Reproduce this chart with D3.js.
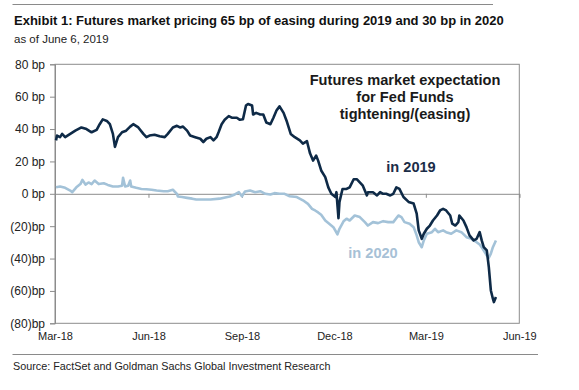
<!DOCTYPE html>
<html><head><meta charset="utf-8">
<script src="https://cdn.jsdelivr.net/npm/d3@7"></script>
<style>
html,body{margin:0;padding:0;background:#fff;}
svg{display:block;font-family:"Liberation Sans",Arial,sans-serif;}
</style></head>
<body>
<svg id="chart" width="579" height="390"></svg>
<script>
// ---- data ----
const dates2019 = ["2018-03-02","2018-03-03","2018-03-06","2018-03-08","2018-03-11","2018-03-16","2018-03-21","2018-03-27","2018-04-01","2018-04-06","2018-04-11","2018-04-14","2018-04-17","2018-04-21","2018-04-24","2018-04-27","2018-04-29","2018-05-02","2018-05-06","2018-05-10","2018-05-14","2018-05-17","2018-05-22","2018-05-27","2018-05-30","2018-06-02","2018-06-07","2018-06-12","2018-06-17","2018-06-20","2018-06-25","2018-06-29","2018-07-02","2018-07-05","2018-07-09","2018-07-12","2018-07-17","2018-07-22","2018-07-25","2018-07-28","2018-08-01","2018-08-04","2018-08-07","2018-08-09","2018-08-12","2018-08-15","2018-08-19","2018-08-22","2018-08-27","2018-08-30","2018-09-02","2018-09-05","2018-09-07","2018-09-11","2018-09-12","2018-09-15","2018-09-19","2018-09-22","2018-09-25","2018-09-29","2018-10-02","2018-10-05","2018-10-08","2018-10-12","2018-10-15","2018-10-17","2018-10-19","2018-10-23","2018-10-28","2018-10-31","2018-11-04","2018-11-05","2018-11-07","2018-11-10","2018-11-13","2018-11-15","2018-11-18","2018-11-22","2018-11-25","2018-11-28","2018-12-02","2018-12-03","2018-12-05","2018-12-06","2018-12-09","2018-12-13","2018-12-16","2018-12-20","2018-12-23","2018-12-26","2018-12-29","2019-01-02","2019-01-03","2019-01-08","2019-01-12","2019-01-15","2019-01-18","2019-01-21","2019-01-25","2019-01-28","2019-01-31","2019-02-03","2019-02-07","2019-02-12","2019-02-17","2019-02-20","2019-02-22","2019-02-25","2019-02-27","2019-03-02","2019-03-05","2019-03-08","2019-03-12","2019-03-15","2019-03-18","2019-03-21","2019-03-25","2019-03-27","2019-03-30","2019-04-02","2019-04-03","2019-04-07","2019-04-10","2019-04-13","2019-04-17","2019-04-20","2019-04-23","2019-04-25","2019-04-27","2019-04-30","2019-05-02","2019-05-04","2019-05-06","2019-05-07","2019-05-09"];
const values2019 = [33,36,35,37,35,37,39,41,40,38,39.5,43,46,45,43,37,29,35,38,39,41.5,43,41,37,35,36,36.5,35.5,35,37,41,42,41,41.5,39,36,35,34,32,34,35,33,35,38,43,45.7,48,47,47,45.7,46,54.5,55.5,54.5,49,50,49,49,44,43,47,51.4,54,50,45,41,37,35,33,31,32.5,30,25,20.5,23.6,20.5,14.4,10.3,4,0,-2,1,-15,-5,3,3,4,9,9,7,5,-1,1,1,-1,1,0,0,-1,0,4,3,-2,-5,-6,-12.3,-22.6,-27.8,-24.7,-21.6,-19.6,-16.5,-13.4,-10.3,-9.3,-10.3,-13.4,-18.5,-19.6,-17.5,-13.4,-16.5,-20.6,-25.7,-28.8,-27.8,-23.7,-28.8,-33,-35,-45.3,-59.7,-64.8,-66.9,-63.8];

const dates2020 = ["2018-03-02","2018-03-06","2018-03-11","2018-03-16","2018-03-18","2018-03-22","2018-03-26","2018-03-28","2018-03-31","2018-04-03","2018-04-06","2018-04-09","2018-04-13","2018-04-18","2018-04-22","2018-04-27","2018-05-02","2018-05-06","2018-05-07","2018-05-09","2018-05-12","2018-05-14","2018-05-15","2018-05-20","2018-05-25","2018-05-30","2018-06-04","2018-06-09","2018-06-16","2018-06-20","2018-06-25","2018-06-29","2018-06-30","2018-07-04","2018-07-09","2018-07-14","2018-07-18","2018-07-25","2018-08-01","2018-08-10","2018-08-20","2018-08-25","2018-08-29","2018-09-01","2018-09-04","2018-09-09","2018-09-14","2018-09-19","2018-09-24","2018-09-29","2018-10-03","2018-10-08","2018-10-13","2018-10-18","2018-10-25","2018-10-31","2018-11-05","2018-11-09","2018-11-12","2018-11-15","2018-11-18","2018-11-22","2018-11-25","2018-11-30","2018-12-04","2018-12-06","2018-12-10","2018-12-13","2018-12-16","2018-12-21","2018-12-26","2018-12-31","2019-01-03","2019-01-08","2019-01-13","2019-01-18","2019-01-23","2019-01-28","2019-02-02","2019-02-05","2019-02-08","2019-02-13","2019-02-17","2019-02-20","2019-02-22","2019-02-25","2019-02-27","2019-03-02","2019-03-07","2019-03-10","2019-03-13","2019-03-18","2019-03-21","2019-03-26","2019-03-31","2019-04-05","2019-04-10","2019-04-15","2019-04-20","2019-04-23","2019-04-26","2019-04-30","2019-05-02","2019-05-04","2019-05-06","2019-05-09"];
const values2020 = [4,4.5,3.7,2,1,4,6,8.6,5.7,7,6,8.2,6,6.5,5.5,4.5,4.5,5,9.9,4.5,5,8.2,4.5,3.7,3,2.8,2.5,2,1.6,1.6,2.5,0,-1.7,-2,-2.5,-3,-3.5,-3.5,-3.5,-3,-1.7,-0.4,1,-1.5,1.4,2,1,1.6,0,-0.4,0.4,0,0,-1.5,-2,-4,-6.2,-9.3,-10.3,-11.5,-13,-16.5,-18,-20.6,-25,-21.6,-17,-15.4,-16.5,-13.4,-14.4,-17.5,-19.6,-17.5,-18.1,-16.9,-17.5,-17.5,-13.4,-14.4,-17.5,-18.5,-20.6,-25.7,-29.9,-33,-28.8,-24.7,-23.7,-21.6,-23.7,-22.6,-23.7,-24.7,-22.6,-23.7,-26.8,-27.8,-29.9,-31.3,-34,-38.1,-39.5,-37,-33,-28.8];

const yTicks = [80,60,40,20,0,-20,-40,-60,-80];
const yTickLabels = ["80 bp","60 bp","40 bp","20 bp","0 bp","(20)bp","(40)bp","(60)bp","(80)bp"];
const xTickDates = ["2018-03-01","2018-06-01","2018-09-01","2018-12-01","2019-03-01","2019-06-01"];
const xTickLabels = ["Mar-18","Jun-18","Sep-18","Dec-18","Mar-19","Jun-19"];

const titleText = "Exhibit 1: Futures market pricing 65 bp of easing during 2019 and 30 bp in 2020";
const subtitleText = "as of June 6, 2019";
const sourceText = "Source: FactSet and Goldman Sachs Global Investment Research";
const noteLines = ["Futures market expectation","for Fed Funds","tightening/(easing)"];

// ---- drawing ----
const parse = d3.timeParse("%Y-%m-%d");
const svg = d3.select("#chart");
const L = 55, R = 519.3, T = 64.3, B = 323.3;
const x = d3.scaleTime().domain([parse(xTickDates[0]), parse(xTickDates[xTickDates.length-1])]).range([L, R]);
const y = d3.scaleLinear().domain([-80, 80]).range([B, T]);
const gridColor = "#8c8c8c";

// rules
svg.append("line").attr("x1",12.5).attr("x2",493).attr("y1",4.5).attr("y2",4.5).attr("stroke","#8a8a8a").attr("stroke-width",1);
svg.append("line").attr("x1",12.5).attr("x2",538).attr("y1",354.5).attr("y2",354.5).attr("stroke","#8a8a8a").attr("stroke-width",1);

svg.append("text").attr("x",14).attr("y",25).attr("font-size",13).attr("font-weight","bold").attr("fill","#111").text(titleText);
svg.append("text").attr("x",14).attr("y",43).attr("font-size",11.5).attr("fill","#222").text(subtitleText);
svg.append("text").attr("x",13).attr("y",370).attr("font-size",10.8).attr("fill","#222").text(sourceText);

// frame
svg.append("rect").attr("x",L).attr("y",T).attr("width",R-L).attr("height",B-T).attr("fill","none").attr("stroke",gridColor).attr("stroke-width",1);

// y axis
const yAxis = d3.axisLeft(y).tickValues(yTicks).tickSize(5).tickPadding(5)
  .tickFormat((d,i) => yTickLabels[i]);
const gy = svg.append("g").attr("transform",`translate(${L},0)`).call(yAxis);
gy.select(".domain").attr("stroke",gridColor);
gy.selectAll(".tick line").attr("stroke",gridColor);
gy.selectAll(".tick text").attr("font-size",12).attr("fill","#222").attr("font-family","Liberation Sans, Arial, sans-serif");

// x axis at zero
const xAxis = d3.axisBottom(x).tickValues(xTickDates.map(parse)).tickSize(4).tickFormat("");
const gx = svg.append("g").attr("transform",`translate(0,${y(0)})`).call(xAxis);
gx.select(".domain").attr("stroke",gridColor);
gx.selectAll(".tick line").attr("stroke",gridColor);

// x labels at bottom
const gxl = svg.append("g").attr("transform",`translate(0,${B})`)
  .call(d3.axisBottom(x).tickValues(xTickDates.map(parse)).tickSize(0).tickPadding(9).tickFormat((d,i)=>xTickLabels[i]));
gxl.select(".domain").remove();
gxl.selectAll(".tick text").attr("font-size",11).attr("fill","#222").attr("font-family","Liberation Sans, Arial, sans-serif");

// lines
const line = d3.line().x(d => x(d[0])).y(d => y(d[1]));
const s2020 = dates2020.map((d,i)=>[parse(d), values2020[i]]);
const s2019 = dates2019.map((d,i)=>[parse(d), values2019[i]]);
svg.append("path").datum(s2020).attr("d",line).attr("fill","none").attr("stroke","#a3c2d8").attr("stroke-width",2.6).attr("stroke-linejoin","round");
svg.append("path").datum(s2019).attr("d",line).attr("fill","none").attr("stroke","#0e2a47").attr("stroke-width",2.6).attr("stroke-linejoin","round");

// annotations
const note = svg.append("text").attr("text-anchor","middle").attr("font-size",14.6).attr("font-weight","bold").attr("fill","#1a1a1a");
noteLines.forEach((t,i)=> note.append("tspan").attr("x",405).attr("y",85 + i*17).text(t));
svg.append("text").attr("x",411).attr("y",172).attr("text-anchor","middle").attr("font-size",14.6).attr("font-weight","bold").attr("fill","#1b2d47").text("in 2019");
svg.append("text").attr("x",373).attr("y",257.5).attr("text-anchor","middle").attr("font-size",14.6).attr("font-weight","bold").attr("fill","#a7c1d6").text("in 2020");
</script>
</body></html>
